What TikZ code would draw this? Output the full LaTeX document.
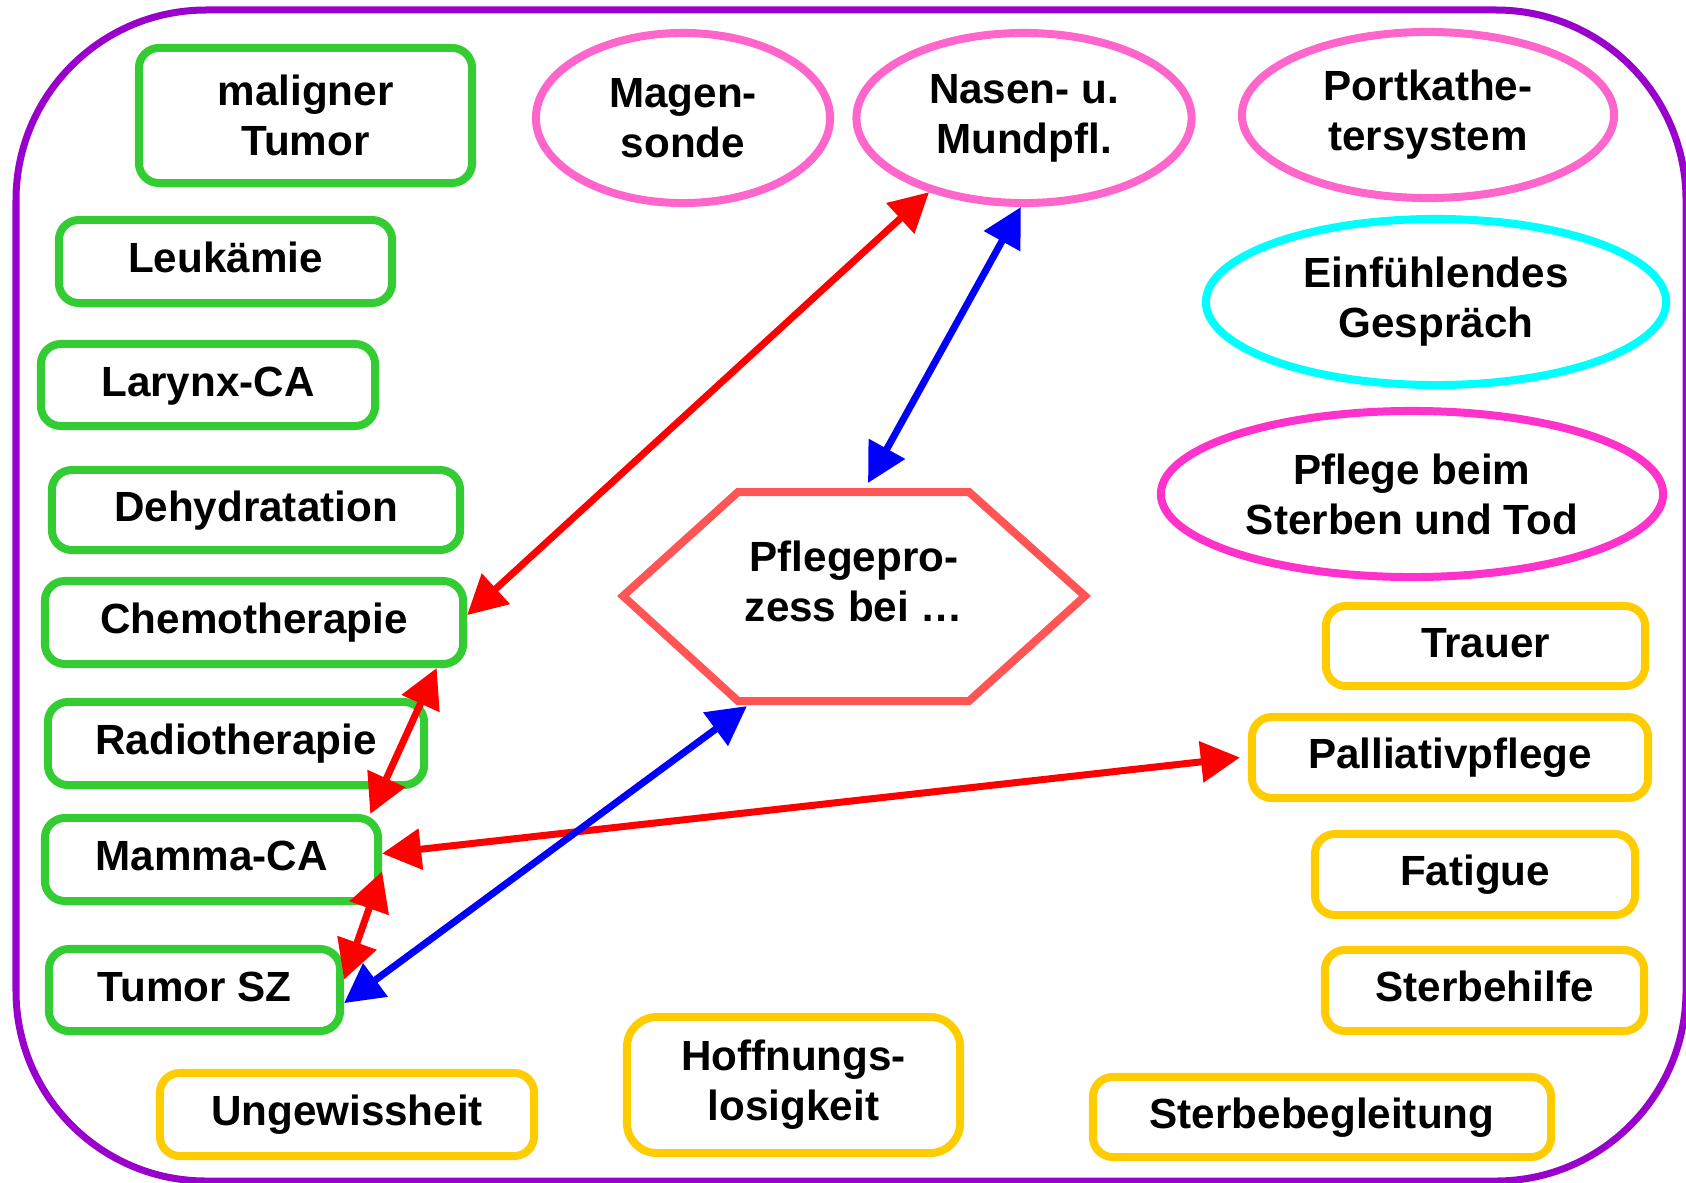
\documentclass[tikz,border=0pt]{standalone}
\usepackage{fontspec}
\setmainfont{Liberation Sans}
\usetikzlibrary{arrows.meta,shapes.geometric}

\definecolor{gruen}{HTML}{33CC33}
\definecolor{gelb}{HTML}{FFCC00}
\definecolor{rosa}{HTML}{FF66CC}
\definecolor{magenta2}{HTML}{FF33CC}
\definecolor{tuerkis}{HTML}{00FFFF}
\definecolor{hexrot}{HTML}{FF5555}
\definecolor{lila}{HTML}{9900CC}

\tikzset{
  gbox/.style={draw=gruen, line width=0.08cm, rounded corners=0.2cm, inner sep=0pt},
  ybox/.style={draw=gelb, line width=0.08cm, rounded corners=0.2cm, inner sep=0pt},
  einzeilig/.style={text height=8.8pt, text depth=2.5pt},
  pell/.style={ellipse, draw=#1, line width=0.08cm, inner sep=0pt, align=center},
  pfeilR/.style={{Triangle[length=0.39cm,width=0.4cm]}-{Triangle[length=0.39cm,width=0.4cm]}, red, line width=0.07cm},
  pfeilB/.style={{Triangle[length=0.39cm,width=0.4cm]}-{Triangle[length=0.39cm,width=0.4cm]}, blue, line width=0.07cm}
}

\begin{document}
\begin{tikzpicture}[x=0.01cm, y=-0.01cm, every node/.style={font=\bfseries\fontsize{12}{14.2}\selectfont}]
 \useasboundingbox (0,0) rectangle (1686,1182); %画像の大きさ
 \draw[lila, line width=0.07cm, rounded corners=1.9cm] (16,10) rectangle (1686,1181); %外枠
 % 左の列（緑）
 \node[gbox, align=center, minimum width=3.33cm, minimum height=1.35cm] (tumor) at (305.5,115.5) {maligner\\Tumor}; %悪性腫瘍
 \node[gbox, einzeilig, minimum width=3.33cm, minimum height=0.83cm] (leuk) at (225.5,261.5) {Leukämie};
 \node[gbox, einzeilig, minimum width=3.34cm, minimum height=0.82cm] (larynx) at (208,385) {Larynx-CA};
 \node[gbox, einzeilig, minimum width=4.08cm, minimum height=0.80cm] (dehyd) at (256,510) {Dehydratation};
 \node[gbox, einzeilig, minimum width=4.18cm, minimum height=0.83cm] (chemo) at (254,622.5) {Chemotherapie};
 \node[gbox, einzeilig, minimum width=3.76cm, minimum height=0.83cm] (radio) at (236,743.5) {Radiotherapie};
 \node[gbox, einzeilig, minimum width=3.33cm, minimum height=0.83cm] (mamma) at (211.5,859.5) {Mamma-CA};
 \node[gbox, einzeilig, minimum width=2.91cm, minimum height=0.82cm] (tumorsz) at (194.5,990) {Tumor SZ};
 % 黄色の箱
 \node[ybox, einzeilig, minimum width=3.74cm, minimum height=0.83cm] (ungew) at (347,1114.5) {Ungewissheit};
 \node[ybox, align=center, rounded corners=0.3cm, minimum width=3.33cm, minimum height=1.36cm] (hoffn) at (793.5,1085) {Hoffnungs-\\losigkeit};
 \node[ybox, einzeilig, minimum width=4.58cm, minimum height=0.80cm] (sterbebeg) at (1322,1117) {Sterbebegleitung};
 \node[ybox, einzeilig, minimum width=3.19cm, minimum height=0.80cm] (trauer) at (1485.5,646) {Trauer};
 \node[ybox, einzeilig, minimum width=3.96cm, minimum height=0.81cm] (palliativ) at (1450,757.5) {Palliativpflege};
 \node[ybox, einzeilig, minimum width=3.20cm, minimum height=0.81cm] (fatigue) at (1475,874.5) {Fatigue};
 \node[ybox, einzeilig, minimum width=3.19cm, minimum height=0.81cm] (sterbehilfe) at (1484.5,990.5) {Sterbehilfe};
 % 楕円
 \node[pell=rosa, minimum width=2.94cm, minimum height=1.70cm] (magen) at (683,118) {Magen-\\sonde};
 \node[pell=rosa, minimum width=3.35cm, minimum height=1.70cm] (nasen) at (1024,118) {Nasen- u.\\Mundpfl.};
 \node[pell=rosa, minimum width=3.72cm, minimum height=1.66cm] (portk) at (1428,115) {Portkathe-\\tersystem};
 \node[pell=tuerkis, minimum width=4.60cm, minimum height=1.66cm] (einf) at (1436,302) {Einfühlendes\\Gespräch};
 \node[pell=magenta2, minimum width=5.02cm, minimum height=1.66cm] (pflegetod) at (1412,494) {Pflege beim\\Sterben und Tod};
 % 六角形
 \draw[hexrot, line width=0.08cm] (623,596) -- (738,492) -- (969,492) -- (1085,596) -- (969,701) -- (738,701) -- cycle; %六角形の枠
 \node[align=center, minimum width=4.62cm, minimum height=2.09cm, inner sep=0pt, outer sep=0pt] (hex) at (854,581) {Pflegepro-\\zess bei …}; %中央
 % 矢印
 \draw[pfeilR] (chemo.2) -- (nasen.218);
 \draw[pfeilB] (nasen.268) -- ([xshift=0.14cm,yshift=-0.065cm]hex.north);
 \draw[pfeilR] (chemo.-14) -- (mamma.16);
 \draw[pfeilR] (mamma.-4) -- (tumorsz.4);
 \draw[pfeilR] (mamma.2) -- ([xshift=-0.08cm]palliativ.west);
 \draw[pfeilB] (tumorsz.-5) -- ([xshift=-1.07cm,yshift=-0.205cm]hex.south);
\end{tikzpicture}
\end{document}
